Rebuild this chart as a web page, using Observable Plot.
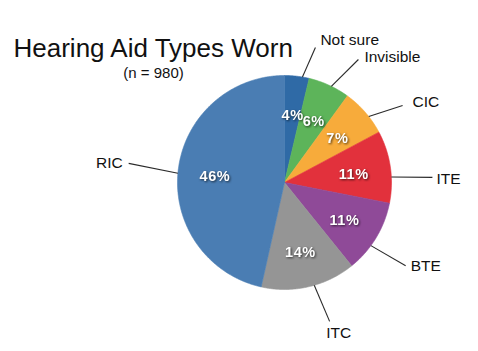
<!DOCTYPE html>
<html>
<head>
<meta charset="utf-8">
<script src="https://cdn.jsdelivr.net/npm/d3@7"></script>
<script src="https://cdn.jsdelivr.net/npm/@observablehq/plot@0.6"></script>
<style>
  html, body { margin: 0; padding: 0; background: #fff; }
  #chart svg { display: block; font-family: "Liberation Sans", Arial, Helvetica, sans-serif; }
  .pct text { filter: drop-shadow(1px 1px 1px rgba(0,0,0,0.65)); letter-spacing: 0.6px; }
</style>
</head>
<body>
<div id="chart"></div>
<script>
// ---- data ----
const categories = ["Not sure", "Invisible", "CIC", "ITE", "BTE", "ITC", "RIC"];
const values = [3.7, 6.3, 7.2, 10.9, 11.1, 14.3, 46.5];
const pctLabels = ["4%", "6%", "7%", "11%", "11%", "14%", "46%"];
const titleText = "Hearing Aid Types Worn";
const subtitleText = "(n = 980)";

// ---- layout / style ----
const W = 478, H = 351;
const cx = 284, cy = 182, R = 107;
const colors = ["#2f6aa6", "#5db45a", "#f7ab3b", "#e2313c", "#8f4a98", "#959595", "#4a7db3"];
// leader layout per category: [start angle shift from slice middle (deg), end angle (deg), end radius, text anchor, dx, dy]
const leaderLayout = {
  "Not sure": [3, 12.9, 138.5, "start", 5, -7],
  "Invisible": [1.3, 31, 143.5, "start", 6, -2],
  "CIC": [3, 56.9, 141, "start", 10, -3],
  "ITE": [5.5, 88, 148, "start", 4, 2],
  "BTE": [5, 124.5, 147, "start", 5, 0],
  "ITC": [-3, 162, 146, "middle", 9, 12],
  "RIC": [-1.3, 277, 157, "end", -6, 0]
};

const total = d3.sum(values);
const rad = (deg) => deg * Math.PI / 180;
const px = (a, r) => cx + r * Math.sin(a);
const py = (a, r) => cy - r * Math.cos(a);

let acc = 0;
const slices = categories.map((c, i) => {
  const a0 = acc / total * 2 * Math.PI;
  acc += values[i];
  const a1 = acc / total * 2 * Math.PI;
  return {cat: c, value: values[i], label: pctLabels[i], a0, a1, mid: (a0 + a1) / 2};
});

// polygon points for each slice
const polyRows = [];
for (const s of slices) {
  polyRows.push({cat: s.cat, x: cx, y: cy});
  const n = Math.max(2, Math.ceil((s.a1 - s.a0) / rad(0.5)));
  for (let k = 0; k <= n; k++) {
    const a = s.a0 + (s.a1 - s.a0) * k / n;
    polyRows.push({cat: s.cat, x: px(a, R), y: py(a, R)});
  }
  polyRows.push({cat: s.cat, x: cx, y: cy});
}

const innerRows = slices.map(s => ({label: s.label, x: px(s.mid, 70), y: py(s.mid, 70) + 2}));

const leaderRows = slices.map(s => {
  const L = leaderLayout[s.cat];
  const as = s.mid + rad(L[0]);
  const ae = rad(L[1]);
  const x2 = px(ae, L[2]), y2 = py(ae, L[2]);
  return {cat: s.cat, x1: px(as, R), y1: py(as, R), x2, y2, anchor: L[3], tx: x2 + L[4], ty: y2 + L[5]};
});

const font = "Liberation Sans, Arial, Helvetica, sans-serif";

const chart = Plot.plot({
  width: W,
  height: H,
  margin: 0,
  x: {domain: [0, W], range: [0, W], axis: null},
  y: {domain: [0, H], range: [0, H], axis: null},
  color: {domain: categories, range: colors},
  style: {fontFamily: font, background: "#fff"},
  marks: [
    Plot.line(polyRows, {x: "x", y: "y", z: "cat", fill: "cat", stroke: "cat", strokeWidth: 0.6, curve: "linear"}),
    Plot.link(leaderRows, {x1: "x1", y1: "y1", x2: "x2", y2: "y2", stroke: "#2a2a2a", strokeWidth: 1.1}),
    ...["start", "middle", "end"].map(anchor =>
      Plot.text(leaderRows.filter(d => d.anchor === anchor), {
        x: "tx", y: "ty", text: "cat", textAnchor: anchor, lineAnchor: "middle",
        fontSize: 15.5, fill: "#111", fontFamily: font
      })
    ),
    Plot.text(innerRows, {x: "x", y: "y", text: "label", fill: "#fff", fontSize: 14.5, fontWeight: "bold",
      lineAnchor: "middle", fontFamily: font, className: "pct"}),
    Plot.text([titleText], {x: () => 13, y: () => 56.5, text: d => d, textAnchor: "start", lineAnchor: "bottom",
      fontSize: 26, fill: "#111", fontFamily: font}),
    Plot.text([subtitleText], {x: () => 153, y: () => 77.5, text: d => d, textAnchor: "middle", lineAnchor: "bottom",
      fontSize: 15, fill: "#111", fontFamily: font})
  ]
});

document.getElementById("chart").appendChild(chart);
</script>
</body>
</html>
